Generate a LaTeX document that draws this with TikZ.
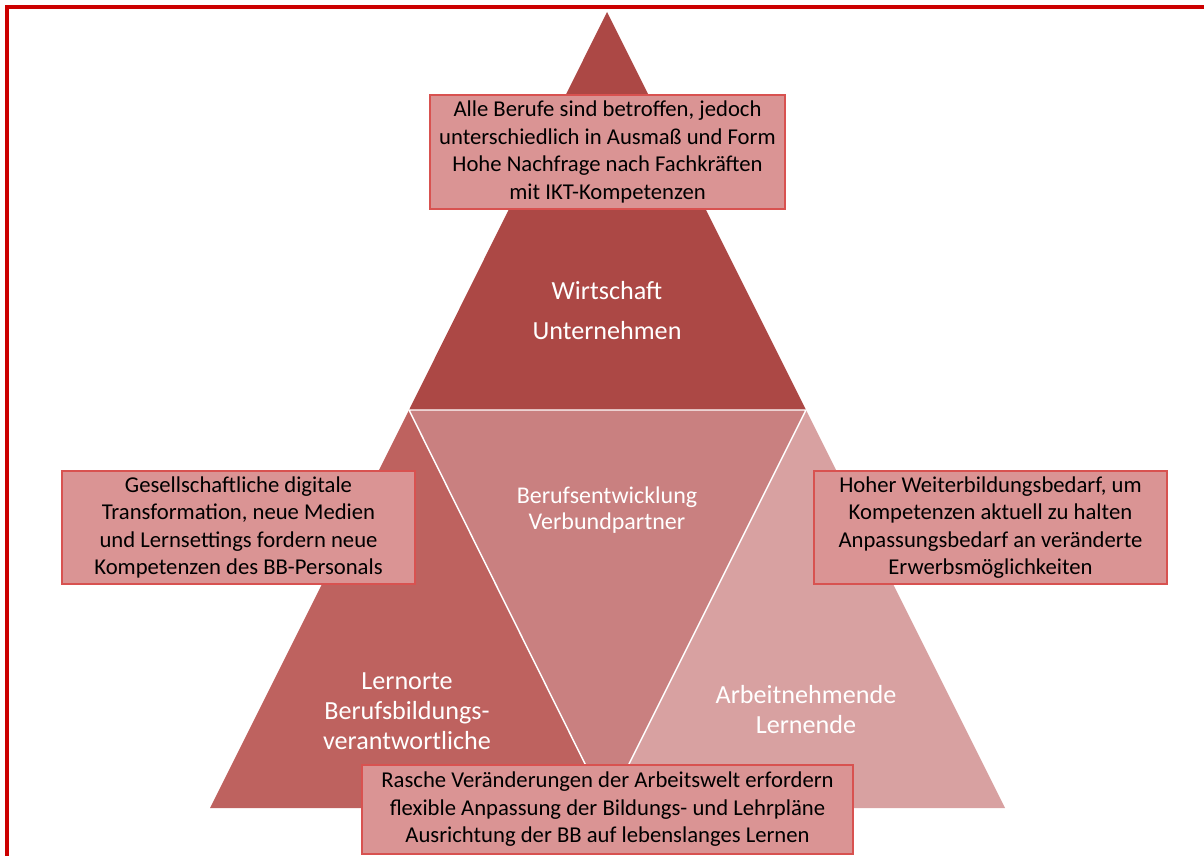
\documentclass[tikz,border=0pt]{standalone}
\usepackage{fontspec}
\setmainfont{Carlito}
\definecolor{topred}{RGB}{172,72,69}
\definecolor{midred}{RGB}{201,128,128}
\definecolor{leftred}{RGB}{190,98,95}
\definecolor{rightred}{RGB}{216,161,161}
\definecolor{boxfill}{RGB}{218,148,148}
\definecolor{boxline}{RGB}{216,82,80}
\definecolor{framered}{RGB}{204,0,0}
\tikzset{
  infobox/.style={draw=boxline, fill=boxfill, line width=0.9pt, align=center,
    inner sep=0pt, font=\fontsize{17}{20.6}\selectfont},
  corner/.style={white, align=center, font=\fontsize{19.6}{22.5}\selectfont},
  middle/.style={white, align=center, font=\fontsize{18}{19.5}\selectfont}
}
\begin{document}
\begin{tikzpicture}[x=0.75pt, y=-0.75pt]
			\useasboundingbox (0,0) rectangle (1204,856);
			%% frame (open to the right and bottom)
			\draw[framered, line width=2.4pt] (1204,7) -- (7,7) -- (7,856);
			%% vertices
			\coordinate (apex) at (607,12);
			\coordinate (ml) at (409,410);
			\coordinate (mr) at (806,410);
			\coordinate (bl) at (210,808);
			\coordinate (bm) at (607,808);
			\coordinate (br) at (1005,808);
			%% triangles
			\fill[topred] (apex) -- (ml) -- (mr) -- cycle;
			\fill[leftred] (ml) -- (bl) -- (bm) -- cycle;
			\fill[rightred] (mr) -- (bm) -- (br) -- cycle;
			\fill[midred] (ml) -- (mr) -- (bm) -- cycle;
			%%% white edges
			\draw[white, line width=1.1pt] (ml) -- (mr) -- (bm) -- (ml);
			%% labels
			\node[corner] (wirt) at (607,311) {Wirtschaft\\[7.5pt]Unternehmen};
			\node[middle] (beruf) at (607,510) {Berufsentwicklung\\Verbundpartner};
			\node[corner] (lern) at (407,711) {Lernorte\\Berufsbildungs-\\verantwortliche};
			\node[corner] (arb) at (806,710) {Arbeitnehmende\\Lernende};
			%% text boxes
			\node[infobox, minimum width=266.25pt, minimum height=85.5pt] (top) at (607.5,152)
				{Alle Berufe sind betroffen, jedoch\\unterschiedlich in Ausmaß und Form\\Hohe Nachfrage nach Fachkräften\\mit IKT-Kompetenzen};
			\node[infobox, minimum width=264.75pt, minimum height=84.75pt] (left) at (238.5,527.5)
				{Gesellschaftliche digitale\\Transformation, neue Medien\\und Lernsettings fordern neue\\Kompetenzen des BB-Personals};
			\node[infobox, minimum width=264.75pt, minimum height=84.75pt] (right) at (990.5,527.5)
				{Hoher Weiterbildungsbedarf, um\\Kompetenzen aktuell zu halten\\Anpassungsbedarf an veränderte\\Erwerbsmöglichkeiten};
			\node[infobox, minimum width=368.25pt, minimum height=66.75pt] (bottom) at (607.5,809.5)
				{Rasche Veränderungen der Arbeitswelt erfordern\\flexible Anpassung der Bildungs- und Lehrpläne\\Ausrichtung der BB auf lebenslanges Lernen};
		\end{tikzpicture}
\end{document}
